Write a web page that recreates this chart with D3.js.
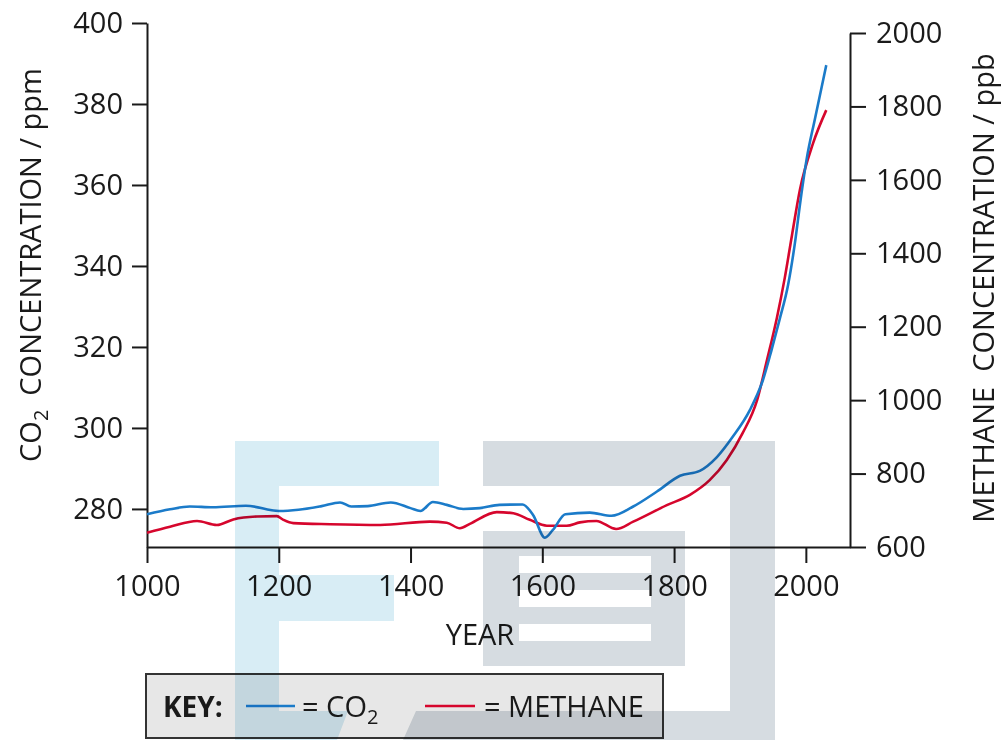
<!DOCTYPE html>
<html>
<head>
<meta charset="utf-8">
<script src="https://cdn.jsdelivr.net/npm/d3@7"></script>
<style>
  body { margin: 0; background: #fff; }
  text { font-family: "Open Sans", sans-serif; fill: #1a1a1a; }
</style>
</head>
<body>
<script>
// values
var co2Years = [1000, 1035, 1065, 1100, 1150, 1200, 1230, 1265, 1293, 1310, 1335, 1370, 1400, 1415, 1434, 1455, 1480, 1505, 1535, 1570, 1586, 1604, 1616, 1635, 1672, 1705, 1738, 1774, 1809, 1839, 1865, 1889, 1915, 1935, 1948, 1960, 1973, 1983, 1992, 2001, 2014, 2031];
var co2 = [278.7, 279.9, 280.6, 280.4, 280.8, 279.5, 279.8, 280.7, 281.6, 280.6, 280.7, 281.6, 280.2, 279.5, 281.7, 281.0, 280.0, 280.2, 281.0, 281.1, 278.5, 272.9, 274.8, 278.7, 279.1, 278.3, 280.6, 284.3, 288.2, 289.4, 292.8, 297.8, 304.4, 311.9, 319.3, 326.7, 335.3, 345.2, 356.3, 366.2, 376.5, 389.6];

var ch4Years = [1000, 1035, 1076, 1106, 1131, 1167, 1197, 1207, 1222, 1278, 1354, 1429, 1455, 1475, 1490, 1531, 1556, 1581, 1607, 1637, 1657, 1682, 1712, 1738, 1789, 1824, 1854, 1880, 1904, 1926, 1941, 1956, 1968, 1979, 1991, 2011, 2031];
var methane = [639, 655, 671, 660, 675, 683, 684, 674, 665, 662, 660, 669, 666, 651, 663, 695, 692, 674, 658, 658, 667, 671, 649, 669, 714, 742, 782, 837, 910, 1000, 1109, 1224, 1333, 1450, 1573, 1700, 1790];

var yearTicks = [1000, 1200, 1400, 1600, 1800, 2000];
var co2Ticks = [280, 300, 320, 340, 360, 380, 400];
var ch4Ticks = [600, 800, 1000, 1200, 1400, 1600, 1800, 2000];

var w = 1003, h = 740;
var blue = "#1b7bc9", red = "#d6062d";
var fs = 29;

var svg = d3.select("body").append("svg")
  .attr("width", w)
  .attr("height", h);

var x = d3.scaleLinear().domain([1000, 2067]).range([147, 850]);
var yL = d3.scaleLinear().domain([270.6, 400]).range([547, 23]);
var yR = d3.scaleLinear().domain([600, 2000]).range([547, 33]);

function styleAxis(g) {
  g.selectAll("path, line").attr("stroke", "#1a1a1a").attr("stroke-width", 2);
  g.selectAll("text").attr("font-size", fs).attr("fill", "#1a1a1a")
    .attr("font-family", "Open Sans, sans-serif");
}

svg.append("g")
  .attr("transform", "translate(147,0)")
  .call(d3.axisLeft(yL).tickValues(co2Ticks).tickSize(15).tickSizeOuter(0).tickPadding(9))
  .call(styleAxis);

svg.append("g")
  .attr("transform", "translate(850,0)")
  .call(d3.axisRight(yR).tickValues(ch4Ticks).tickFormat(d3.format("d")).tickSize(16).tickSizeOuter(0).tickPadding(10))
  .call(styleAxis);

svg.append("g")
  .attr("transform", "translate(0,547)")
  .call(d3.axisBottom(x).tickValues(yearTicks).tickFormat(d3.format("d")).tickSize(16).tickSizeOuter(0).tickPadding(12))
  .call(styleAxis);

// curves
var lineCo2 = d3.line()
  .x(function(d, i) { return x(co2Years[i]); })
  .y(function(d) { return yL(d); })
  .curve(d3.curveMonotoneX);

var lineCh4 = d3.line()
  .x(function(d, i) { return x(ch4Years[i]); })
  .y(function(d) { return yR(d); })
  .curve(d3.curveMonotoneX);

svg.append("path").datum(methane)
  .attr("d", lineCh4).attr("fill", "none")
  .attr("stroke", red).attr("stroke-width", 2.6);

svg.append("path").datum(co2)
  .attr("d", lineCo2).attr("fill", "none")
  .attr("stroke", blue).attr("stroke-width", 2.6);

// axis titles
var leftTitle = svg.append("text")
  .attr("transform", "translate(41,265) rotate(-90)")
  .attr("text-anchor", "middle")
  .attr("font-size", fs);
leftTitle.append("tspan").text("CO");
leftTitle.append("tspan").attr("font-size", 20).attr("dy", 7).text("2");
leftTitle.append("tspan").attr("dy", -7).attr("dx", 14).text("CONCENTRATION / ppm");

svg.append("text")
  .attr("transform", "translate(994,288) rotate(-90)")
  .attr("text-anchor", "middle")
  .attr("font-size", fs)
  .style("white-space", "pre")
  .text("METHANE  CONCENTRATION / ppb");

svg.append("text")
  .attr("x", 480).attr("y", 645)
  .attr("text-anchor", "middle")
  .attr("font-size", fs)
  .text("YEAR");

// key
svg.append("rect")
  .attr("x", 146).attr("y", 674).attr("width", 517).attr("height", 64)
  .attr("fill", "#e7e7e7").attr("stroke", "#333").attr("stroke-width", 2);

svg.append("text").attr("x", 163).attr("y", 717)
  .attr("font-size", 28).attr("font-weight", "bold").text("KEY:");
svg.append("line").attr("x1", 246).attr("x2", 295).attr("y1", 706).attr("y2", 706)
  .attr("stroke", blue).attr("stroke-width", 2.6);
var keyCo2 = svg.append("text").attr("x", 302).attr("y", 717).attr("font-size", fs);
keyCo2.append("tspan").text("= CO");
keyCo2.append("tspan").attr("font-size", 20).attr("dy", 7).text("2");
svg.append("line").attr("x1", 425).attr("x2", 475).attr("y1", 706).attr("y2", 706)
  .attr("stroke", red).attr("stroke-width", 2.6);
svg.append("text").attr("x", 484).attr("y", 717).attr("font-size", fs).text("= METHANE");

// watermark laid over the chart
var mark = svg.append("g").style("mix-blend-mode", "multiply");
mark.append("path")
  .attr("d", "M235,441H439V486H279V575H394V621H279V711H348L337,740H235Z")
  .attr("fill", "#d8edf5");
mark.append("path")
  .attr("d", "M483,441H775V740H403L416,711H730V486H483Z")
  .attr("fill", "#d6dce1");
mark.append("path")
  .attr("fill-rule", "evenodd")
  .attr("d", "M483,531H685V666H483Z M519,556H651V573H519Z M519,590H651V607H519Z M519,624H651V641H519Z")
  .attr("fill", "#d6dce1");
</script>
</body>
</html>
